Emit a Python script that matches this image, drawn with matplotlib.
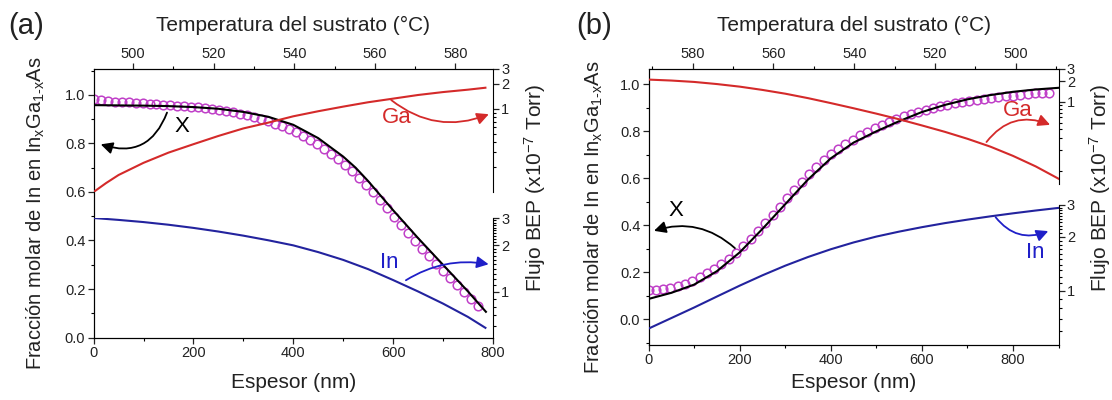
import matplotlib
matplotlib.use("Agg")
import matplotlib.pyplot as plt
from matplotlib.ticker import MultipleLocator, FixedLocator, FixedFormatter, NullFormatter
from matplotlib.patches import FancyArrowPatch

plt.rcParams["font.family"] = ["Liberation Sans", "DejaVu Sans"]
plt.rcParams["mathtext.fontset"] = "custom"
plt.rcParams["mathtext.rm"] = "Liberation Sans"
plt.rcParams["mathtext.it"] = "Liberation Sans:italic"
plt.rcParams["mathtext.default"] = "regular"

# ---- panel (a) ----
a_fit_t = [0, 100, 150, 200, 250, 300, 350, 400, 450, 500, 525, 550, 575, 600, 650, 700,
           750, 786]
a_fit_x = [0.958, 0.956, 0.954, 0.950, 0.943, 0.930, 0.910, 0.877, 0.822, 0.746, 0.700,
           0.645, 0.585, 0.525, 0.410, 0.300, 0.190, 0.106]
a_meas_t = [0, 14, 28, 42, 56, 70, 84, 98, 112, 126, 140, 154, 168, 182, 196, 210, 224,
            238, 252, 266, 280, 294, 308, 322, 336, 350, 364, 378, 392, 406, 420, 434,
            448, 462, 476, 490, 504, 518, 532, 546, 560, 574, 588, 602, 616, 630, 644,
            658, 672, 686, 700, 714, 728, 742, 756, 770]
a_meas_x = [0.985, 0.978, 0.975, 0.973, 0.971, 0.969, 0.967, 0.965, 0.963, 0.961, 0.959,
            0.957, 0.955, 0.953, 0.951, 0.949, 0.946, 0.943, 0.940, 0.935, 0.929, 0.923,
            0.916, 0.909, 0.901, 0.892, 0.882, 0.871, 0.859, 0.846, 0.831, 0.815, 0.797,
            0.778, 0.757, 0.735, 0.711, 0.686, 0.659, 0.630, 0.600, 0.568, 0.533, 0.497,
            0.463, 0.430, 0.398, 0.366, 0.335, 0.305, 0.275, 0.245, 0.216, 0.187, 0.160,
            0.130]
a_ga_t = [0, 25, 50, 100, 150, 200, 250, 300, 350, 400, 450, 500, 550, 600, 650, 700,
          750, 785]
a_ga_flux = [0.100, 0.128, 0.160, 0.224, 0.297, 0.375, 0.471, 0.580, 0.681, 0.811, 0.933,
             1.060, 1.196, 1.322, 1.462, 1.585, 1.694, 1.787]
a_in_t = [0, 50, 100, 150, 200, 250, 300, 350, 400, 450, 500, 550, 600, 650, 700, 750,
          785]
a_in_flux = [3.00, 2.916, 2.823, 2.713, 2.588, 2.451, 2.305, 2.151, 1.994, 1.803, 1.605,
             1.398, 1.188, 1.002, 0.836, 0.685, 0.582]
a_temp = (490.2, 589.3)

# ---- panel (b) ----
b_fit_t = [0, 50, 100, 150, 200, 250, 300, 350, 400, 450, 500, 550, 600, 650, 700, 750,
           800, 850, 900]
b_fit_x = [0.087, 0.113, 0.148, 0.205, 0.285, 0.385, 0.490, 0.595, 0.685, 0.752, 0.800,
           0.843, 0.882, 0.912, 0.936, 0.954, 0.968, 0.978, 0.985]
b_meas_t = [0, 16, 32, 48, 64, 80, 96, 112, 128, 144, 160, 176, 192, 208, 224, 240, 256,
            272, 288, 304, 320, 336, 352, 368, 384, 400, 416, 432, 448, 464, 480, 496,
            512, 528, 544, 560, 576, 592, 608, 624, 640, 656, 672, 688, 704, 720, 736,
            752, 768, 784, 800, 816, 832, 848, 864, 880]
b_meas_x = [0.125, 0.127, 0.130, 0.135, 0.142, 0.152, 0.165, 0.180, 0.197, 0.215, 0.235,
            0.257, 0.282, 0.310, 0.342, 0.375, 0.410, 0.445, 0.480, 0.515, 0.550, 0.585,
            0.618, 0.648, 0.676, 0.702, 0.725, 0.746, 0.765, 0.783, 0.799, 0.814, 0.828,
            0.841, 0.853, 0.864, 0.874, 0.883, 0.892, 0.900, 0.907, 0.913, 0.919, 0.924,
            0.929, 0.934, 0.938, 0.942, 0.946, 0.949, 0.952, 0.955, 0.958, 0.961, 0.963,
            0.965]
b_ga_t = [0, 50, 100, 150, 200, 250, 300, 350, 400, 450, 500, 550, 600, 650, 700, 750,
          800, 850, 900]
b_ga_flux = [2.106, 2.041, 1.948, 1.815, 1.665, 1.492, 1.316, 1.134, 0.961, 0.809, 0.676,
             0.560, 0.456, 0.369, 0.292, 0.225, 0.165, 0.116, 0.077]
b_in_t = [0, 50, 100, 150, 200, 250, 300, 350, 400, 450, 500, 550, 600, 650, 700, 750,
          800, 850, 900]
b_in_flux = [0.617, 0.706, 0.808, 0.930, 1.069, 1.220, 1.380, 1.542, 1.703, 1.858, 2.003,
             2.134, 2.259, 2.378, 2.488, 2.594, 2.697, 2.796, 2.891]
b_temp = (590.9, 489.4)

W, H = 1112, 400
RED, BLUE, MAG = "#d42a2a", "#23239e", "#c040c8"
IN_TXT = "#1f1fc8"
TXT = "#222222"
LBL, TCK = 14.5, 10.5


def fx(px):
    return px / W


def fy(py):
    return 1 - py / H


def style_ticks(axis_obj):
    axis_obj.tick_params(which="major", direction="out", length=4, width=0.9,
                         labelsize=TCK, colors=TXT, pad=2)
    axis_obj.tick_params(which="minor", direction="out", length=2.2, width=0.8)


def flux_axis(fig, left, top, right, bottom, xlim, ylim, minors):
    fa = fig.add_axes([fx(left), fy(bottom), fx(right - left), (bottom - top) / H])
    fa.patch.set_visible(False)
    for s in ["left", "top", "bottom"]:
        fa.spines[s].set_visible(False)
    fa.set_xlim(*xlim)
    fa.set_xticks([])
    fa.set_yscale("log")
    fa.set_ylim(*ylim)
    fa.yaxis.tick_right()
    fa.yaxis.set_major_locator(FixedLocator([1, 2, 3]))
    fa.yaxis.set_major_formatter(FixedFormatter(["1", "2", "3"]))
    fa.yaxis.set_minor_locator(FixedLocator(minors))
    fa.yaxis.set_minor_formatter(NullFormatter())
    style_ticks(fa)
    return fa


def curved_arrow(ax, p0, p1, rad, color):
    arr = FancyArrowPatch(p0, p1, connectionstyle=f"arc3,rad={rad}",
                          arrowstyle="-|>,head_length=7,head_width=3.5",
                          color=color, lw=1.3, clip_on=False, zorder=6)
    ax.add_patch(arr)


def panel(fig, box, xlim, ylim, xmaj, temp, label, tag_x, ylabel_x, rlabel_x):
    left, top, right, bottom = box
    ax = fig.add_axes([fx(left), fy(bottom), fx(right - left), (bottom - top) / H])
    ax.set_xlim(*xlim)
    ax.set_ylim(*ylim)
    ax.spines["right"].set_visible(False)
    ax.xaxis.set_major_locator(MultipleLocator(xmaj))
    ax.xaxis.set_minor_locator(MultipleLocator(xmaj / 2))
    ax.yaxis.set_major_locator(MultipleLocator(0.2))
    ax.yaxis.set_minor_locator(MultipleLocator(0.1))
    ax.yaxis.set_major_formatter(lambda v, p: f"{v:.1f}")
    style_ticks(ax)
    ax.tick_params(axis="y", which="both", right=False)

    top_ax = ax.twiny()
    top_ax.set_xlim(*temp)
    top_ax.xaxis.set_major_locator(MultipleLocator(20))
    top_ax.xaxis.set_minor_locator(MultipleLocator(10))
    top_ax.spines["right"].set_visible(False)
    style_ticks(top_ax)

    cx = (left + right) / 2
    fig.text(fx(cx), fy(25), "Temperatura del sustrato (°C)", ha="center", va="center",
             fontsize=LBL + 0.5, color=TXT)
    fig.text(fx(cx), fy(382), "Espesor (nm)", ha="center", va="center",
             fontsize=LBL + 0.5, color=TXT)
    fig.text(fx(ylabel_x), fy((top + bottom) / 2 + 10),
             "Fracción molar de In en In$_x$Ga$_{1\\text{-}x}$As", rotation=90,
             ha="center", va="center", fontsize=LBL, color=TXT)
    fig.text(fx(rlabel_x), fy(188), "Flujo BEP (x10$^{-7}$ Torr)", rotation=90,
             ha="center", va="center", fontsize=LBL + 0.5, color=TXT)
    fig.text(fx(tag_x), fy(26), label, ha="center", va="center", fontsize=21, color=TXT)
    return ax


fig = plt.figure(figsize=(W / 100, H / 100), dpi=100)

# (a)
axa = panel(fig, (93.6, 69, 492.9, 338), (0, 800), (-0.002, 1.107), 200, a_temp,
            "(a)", 26, 36, 535)
axa.plot(a_meas_t, a_meas_x, "o", ms=6.2, mfc="none", mec=MAG, mew=1.1, zorder=3)
axa.plot(a_fit_t, a_fit_x, color="black", lw=1.5, zorder=4)
ga_a = flux_axis(fig, 93.6, 69, 492.9, 192, (0, 800), (0.1, 3),
                 [0.2, 0.3, 0.4, 0.5, 0.6, 0.7, 0.8, 0.9])
ga_a.plot(a_ga_t, a_ga_flux, color=RED, lw=1.5)
in_a = flux_axis(fig, 93.6, 218, 492.9, 338, (0, 800), (0.5, 3),
                 [0.6, 0.7, 0.8, 0.9, 1.1, 1.2, 1.3, 1.4, 1.5, 1.6, 1.7, 1.8, 1.9,
                  2.1, 2.2, 2.3, 2.4, 2.5, 2.6, 2.7, 2.8, 2.9])
in_a.plot(a_in_t, a_in_flux, color=BLUE, lw=1.5)
axa.text(177, 0.868, "X", fontsize=16, ha="center", va="center", color="black")
axa.text(607, 0.905, "Ga", fontsize=16, ha="center", va="center", color=RED)
axa.text(592, 0.31, "In", fontsize=16, ha="center", va="center", color=IN_TXT)
curved_arrow(axa, (149, 0.938), (9, 0.80), -0.5, "black")
curved_arrow(axa, (592, 0.986), (797, 0.925), 0.3, RED)
curved_arrow(axa, (621, 0.23), (797, 0.30), -0.2, IN_TXT)

# (b)
axb = panel(fig, (648.6, 69, 1058.6, 345), (0, 900), (-0.109, 1.065), 200, b_temp,
            "(b)", 594, 594, 1100)
axb.plot(b_meas_t, b_meas_x, "o", ms=6.2, mfc="none", mec=MAG, mew=1.1, zorder=3)
axb.plot(b_fit_t, b_fit_x, color="black", lw=1.5, zorder=4)
ga_b = flux_axis(fig, 648.6, 69, 1058.6, 184, (0, 900), (0.0646, 3),
                 [0.1, 0.2, 0.3, 0.4, 0.5, 0.6, 0.7, 0.8, 0.9])
ga_b.plot(b_ga_t, b_ga_flux, color=RED, lw=1.5)
in_b = flux_axis(fig, 648.6, 205, 1058.6, 345, (0, 900), (0.5, 3),
                 [0.6, 0.7, 0.8, 0.9, 1.1, 1.2, 1.3, 1.4, 1.5, 1.6, 1.7, 1.8, 1.9,
                  2.1, 2.2, 2.3, 2.4, 2.5, 2.6, 2.7, 2.8, 2.9])
in_b.plot(b_in_t, b_in_flux, color=BLUE, lw=1.5)
axb.text(60, 0.465, "X", fontsize=16, ha="center", va="center", color="black")
axb.text(810, 0.89, "Ga", fontsize=16, ha="center", va="center", color=RED)
axb.text(848, 0.286, "In", fontsize=16, ha="center", va="center", color=IN_TXT)
curved_arrow(axb, (194, 0.295), (6, 0.373), 0.3, "black")
curved_arrow(axb, (738, 0.745), (887, 0.823), -0.4, RED)
curved_arrow(axb, (758, 0.444), (883, 0.38), 0.4, IN_TXT)

fig.savefig("out.png", dpi=100)
